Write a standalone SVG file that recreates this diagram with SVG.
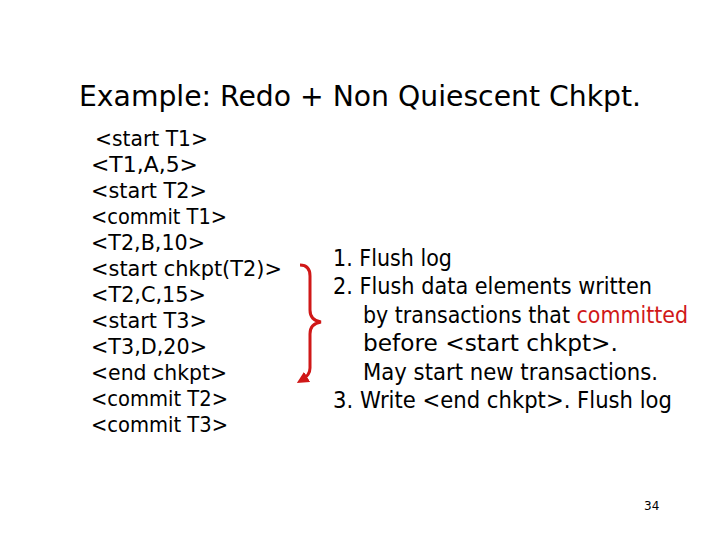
<svg xmlns="http://www.w3.org/2000/svg" width="720" height="540" viewBox="0 0 720 540">
<defs>
<style>
text{font-family:"DejaVu Sans","Liberation Sans",sans-serif;fill:#000}
.t{font-size:29px}
.l{font-size:21px}
.r{font-size:23px}
.red{fill:#d01818}
.pg{font-size:12px}
</style>
<marker id="ah" viewBox="0 0 10 10" refX="5" refY="5" markerWidth="4" markerHeight="4" orient="auto">
<path d="M0,0 L10,5 L0,10 z" fill="#d01818"/>
</marker>
</defs>
<rect width="720" height="540" fill="#fff"/>
<g id="title"><text class="t" x="79" y="106" textLength="562" lengthAdjust="spacingAndGlyphs">Example: Redo + Non Quiescent Chkpt.</text></g>
<g id="log">
<text class="l" x="95" y="146" textLength="113" lengthAdjust="spacingAndGlyphs">&lt;start T1&gt;</text>
<text class="l" x="91" y="172" textLength="107" lengthAdjust="spacingAndGlyphs">&lt;T1,A,5&gt;</text>
<text class="l" x="91" y="198" textLength="116" lengthAdjust="spacingAndGlyphs">&lt;start T2&gt;</text>
<text class="l" x="91" y="224" textLength="136" lengthAdjust="spacingAndGlyphs">&lt;commit T1&gt;</text>
<text class="l" x="91" y="250" textLength="114" lengthAdjust="spacingAndGlyphs">&lt;T2,B,10&gt;</text>
<text class="l" x="91" y="276" textLength="191" lengthAdjust="spacingAndGlyphs">&lt;start chkpt(T2)&gt;</text>
<text class="l" x="91" y="302" textLength="115" lengthAdjust="spacingAndGlyphs">&lt;T2,C,15&gt;</text>
<text class="l" x="91" y="328" textLength="116" lengthAdjust="spacingAndGlyphs">&lt;start T3&gt;</text>
<text class="l" x="91" y="354" textLength="116" lengthAdjust="spacingAndGlyphs">&lt;T3,D,20&gt;</text>
<text class="l" x="91" y="380" textLength="136" lengthAdjust="spacingAndGlyphs">&lt;end chkpt&gt;</text>
<text class="l" x="91" y="406" textLength="137" lengthAdjust="spacingAndGlyphs">&lt;commit T2&gt;</text>
<text class="l" x="91" y="432" textLength="137" lengthAdjust="spacingAndGlyphs">&lt;commit T3&gt;</text>
</g>
<g id="connectors">
<path d="M300,265 C307,265 310,269 310,276 L310,310 C310,317 314,321 321,322 C314,323 310,327 310,334 L310,368 C310,374 307,377 302,380" fill="none" stroke="#d01818" stroke-width="3" marker-end="url(#ah)"/>
</g>
<g id="steps">
<text class="r" x="333" y="266" textLength="119" lengthAdjust="spacingAndGlyphs">1. Flush log</text>
<text class="r" x="333" y="294" textLength="319" lengthAdjust="spacingAndGlyphs">2. Flush data elements written</text>
<text class="r" x="363" y="323" textLength="325" lengthAdjust="spacingAndGlyphs">by transactions that <tspan class="red">committed</tspan></text>
<text class="r" x="363" y="351" textLength="255" lengthAdjust="spacingAndGlyphs">before &lt;start chkpt&gt;.</text>
<text class="r" x="363" y="380" textLength="295" lengthAdjust="spacingAndGlyphs">May start new transactions.</text>
<text class="r" x="333" y="408" textLength="339" lengthAdjust="spacingAndGlyphs">3. Write &lt;end chkpt&gt;. Flush log</text>
</g>
<g id="page"><text class="pg" x="644" y="510">34</text></g>
</svg>
